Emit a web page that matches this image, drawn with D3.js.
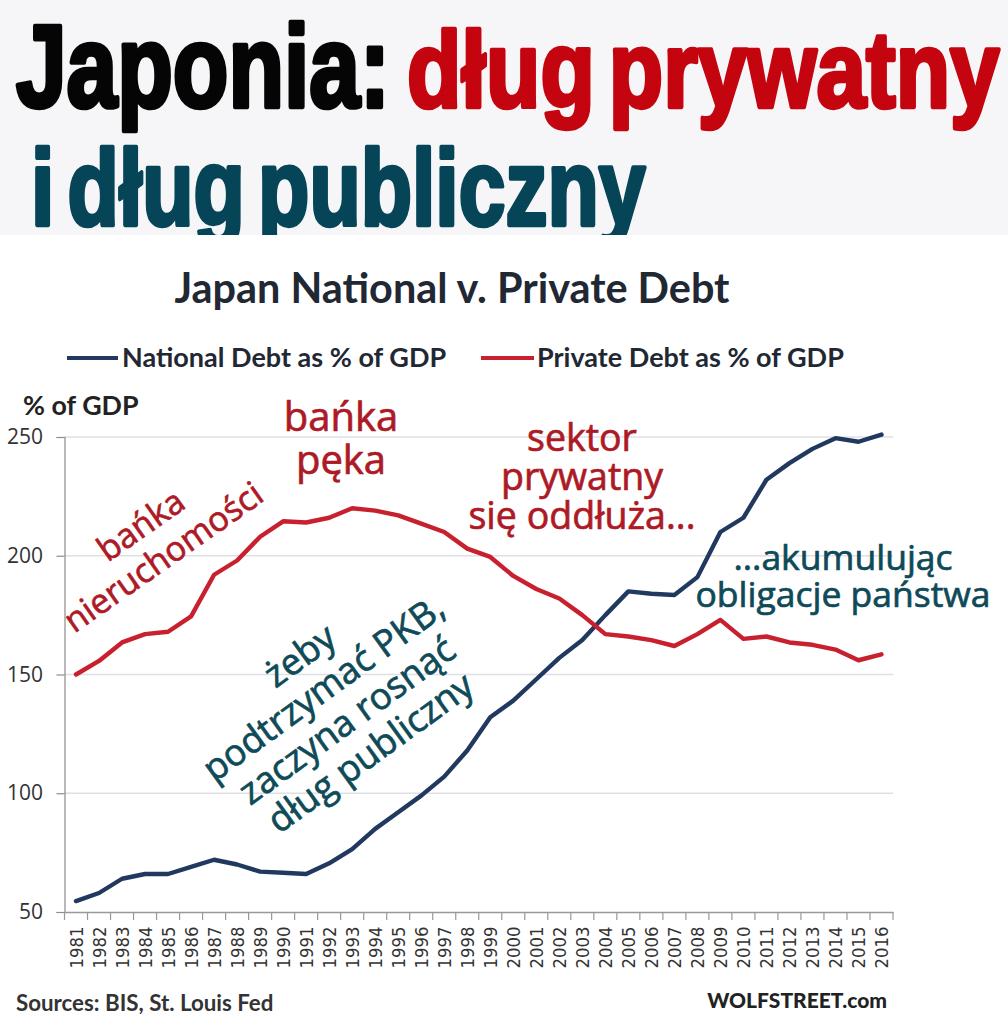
<!DOCTYPE html>
<html><head><meta charset="utf-8">
<script src="https://cdn.jsdelivr.net/npm/d3@7"></script>
<style>html,body{margin:0;padding:0;background:#fff}svg{display:block}</style>
</head><body><div id="chart"></div>
<script>
const years=["1981","1982","1983","1984","1985","1986","1987","1988","1989","1990","1991","1992","1993","1994","1995","1996","1997","1998","1999","2000","2001","2002","2003","2004","2005","2006","2007","2008","2009","2010","2011","2012","2013","2014","2015","2016"];
const nationalDebt=[54.6,58,64,66,66,69,72,70,67,66.5,66,70.5,76.5,85,92,99,107,118,132,139,148,157,164.5,175,185,184,183.5,191,210,216,232,239,245,249.5,248,251];
const privateDebt=[150,155.7,163.5,167,168,174.5,192,198,208,214.5,214,216,220,219,217,213.5,210,203,199.5,191.5,186,182,175,167,166,164.5,162,167,173,165,166,163.5,162.5,160.5,156,158.5];
const yTicks=[50,100,150,200,250];
const chartTitle="Japan National v. Private Debt";
const legendNational="National Debt as % of GDP";
const legendPrivate="Private Debt as % of GDP";

const W=1008,H=1034;
const svg=d3.select("#chart").append("svg").attr("width",W).attr("height",H).attr("viewBox",`0 0 ${W} ${H}`);
svg.append("rect").attr("width",W).attr("height",235).attr("fill","#f6f6f8");

// headline: stretched condensed type
function headline(t,x,base,sx,sy,fill){
  svg.append("text").attr("transform",`translate(${x},${base}) scale(${sx},${sy})`)
    .attr("font-family","'Liberation Sans Narrow','Liberation Sans',sans-serif").attr("font-weight",700)
    .attr("font-size",100).attr("word-spacing",-12).attr("fill",fill).attr("stroke",fill).attr("stroke-width",4).attr("stroke-linejoin","round").text(t);
}
headline("Japonia:",16,107,0.91,1.16,"#050505");
headline("dług prywatny",407,107,0.89,1.08,"#c4040e");
headline("i dług publiczny",31,225,0.84,1.08,"#064557");
// the chart panel sits over the headline's descenders
svg.append("rect").attr("y",235).attr("width",W).attr("height",H-235).attr("fill","#fff");

const x=d3.scaleBand().domain(years).range([64.5,893]);
const y=d3.scaleLinear().domain([50,250]).range([912,437]);
const cx=d=>x(d)+x.bandwidth()/2;
const font="Lato,'Open Sans',sans-serif";

// gridlines
svg.append("g").selectAll("line").data(yTicks.slice(1)).join("line")
  .attr("x1",64.5).attr("x2",893).attr("y1",d=>y(d)).attr("y2",d=>y(d))
  .attr("stroke","#dfdfe6").attr("stroke-width",1.4);

// axes
const gy=svg.append("g").attr("transform","translate(64.5,0)")
  .call(d3.axisLeft(y).tickValues(yTicks).tickSize(8).tickPadding(12));
gy.selectAll("path,line").attr("stroke","#8c8c8c").attr("stroke-width",1.2);
gy.selectAll("text").attr("font-family","'Open Sans',sans-serif").attr("font-size",21).attr("fill","#333").attr("dy","0.32em").attr("x",-21.5);

const gx=svg.append("g").attr("transform","translate(0,912)")
  .call(d3.axisBottom(x).tickValues([]).tickSize(0));
gx.select("path").attr("stroke","#999").attr("stroke-width",1.6);
svg.append("g").selectAll("line").data(years.concat(["end"])).join("line")
  .attr("x1",d=>d==="end"?893:x(d)).attr("x2",d=>d==="end"?893:x(d))
  .attr("y1",912).attr("y2",920).attr("stroke","#999").attr("stroke-width",1.2);
svg.append("g").selectAll("text").data(years).join("text")
  .attr("transform",d=>`translate(${cx(d)+6.5},968.5) rotate(-90)`)
  .attr("font-family","'DejaVu Sans',sans-serif").attr("font-size",18).attr("fill","#333")
  .attr("textLength",42).attr("lengthAdjust","spacingAndGlyphs").text(d=>d);

// series
const line=d3.line().x((d,i)=>cx(years[i])).y(d=>y(d));
svg.append("path").attr("d",line(nationalDebt)).attr("fill","none").attr("stroke","#22395f").attr("stroke-width",4.4).attr("stroke-linejoin","round").attr("stroke-linecap","round");
svg.append("path").attr("d",line(privateDebt)).attr("fill","none").attr("stroke","#c8202f").attr("stroke-width",4.4).attr("stroke-linejoin","round").attr("stroke-linecap","round");

// chart title and legend
svg.append("text").attr("x",452).attr("y",303).attr("text-anchor","middle").attr("font-family",font).attr("font-weight",700).attr("font-size",41.4).attr("fill","#222833").text(chartTitle);
svg.append("line").attr("x1",67).attr("x2",118).attr("y1",358).attr("y2",358).attr("stroke","#22395f").attr("stroke-width",4);
svg.append("text").attr("x",122).attr("y",367).attr("font-family",font).attr("font-weight",700).attr("font-size",27).attr("fill","#222833").text(legendNational);
svg.append("line").attr("x1",481).attr("x2",534).attr("y1",358).attr("y2",358).attr("stroke","#c8202f").attr("stroke-width",4);
svg.append("text").attr("x",537).attr("y",367).attr("font-family",font).attr("font-weight",700).attr("font-size",27).attr("fill","#222833").text(legendPrivate);
svg.append("text").attr("x",23).attr("y",415).attr("font-family",font).attr("font-weight",700).attr("font-size",26.8).attr("fill","#222").text("% of GDP");

svg.append("text").attr("x",16).attr("y",1011).attr("font-family",font).attr("font-weight",700).attr("font-size",22.3).attr("fill","#333").text("Sources: BIS, St. Louis Fed");
svg.append("text").attr("x",887).attr("y",1008).attr("text-anchor","end").attr("font-family",font).attr("font-weight",900).attr("font-size",21).attr("fill","#222").text("WOLFSTREET.com");

// annotations
function note(lines,cxp,cyp,rot,size,lh,fill){
  const g=svg.append("g").attr("transform",`translate(${cxp},${cyp}) rotate(${rot})`);
  lines.forEach((t,i)=>g.append("text").attr("x",0).attr("y",(i-(lines.length-1)/2)*lh).attr("dy","0.35em")
    .attr("text-anchor","middle").attr("font-family","'Open Sans',sans-serif").attr("font-size",size)
    .attr("fill",fill).attr("stroke",fill).attr("stroke-width",0.7).text(t));
}
const red="#ad1a26",teal="#0e4a58";
note(["bańka","pęka"],341,438,0,40,43,red);
note(["sektor","prywatny","się oddłuża..."],582,477,0,37.5,39,red);
note(["bańka","nieruchomości"],152,541,-35,34,39,red);
note(["żeby","podtrzymać PKB,","zaczyna rosnąć","dług publiczny"],335,704,-36,36.5,40,teal);
note(["...akumulując","obligacje państwa"],843,576,0,35.5,37,teal);
</script></body></html>
